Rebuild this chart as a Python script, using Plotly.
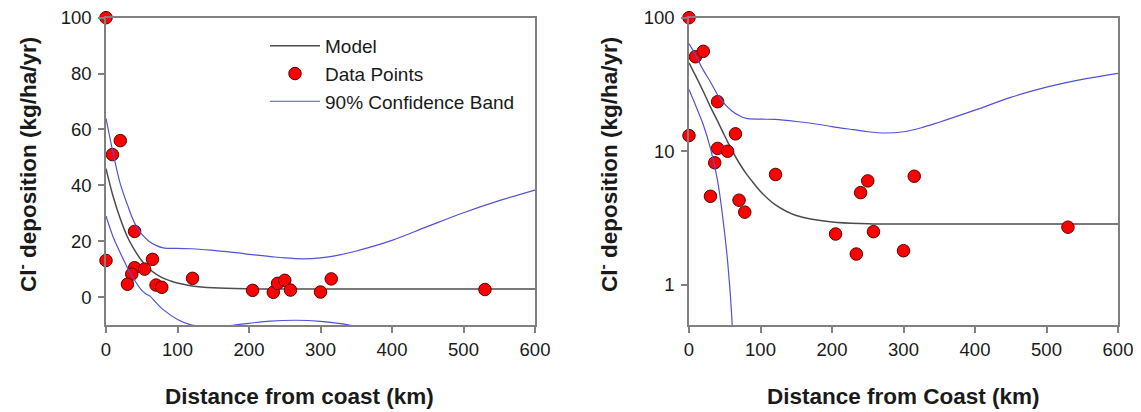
import plotly.graph_objects as go

# ---- data ----
data_x = [0, 9, 20, 40, 0, 65, 40, 54, 36, 30, 70, 78, 121, 205, 234, 240, 250, 258, 300, 315, 530]
data_y = [100, 51, 56, 23.5, 13.1, 13.5, 10.5, 10.0, 8.2, 4.6, 4.3, 3.5, 6.7, 2.4, 1.7, 4.9, 6.0, 2.5, 1.8, 6.5, 2.7]

model_x = [0, 10, 20, 30, 40, 50, 60, 70, 80, 90, 100, 120, 150, 200, 250, 300, 400, 500, 600]
model_y = [46, 36, 28, 21.5, 16.8, 13, 10.2, 8.2, 6.8, 5.8, 5.0, 4.0, 3.3, 2.95, 2.87, 2.85, 2.85, 2.85, 2.85]

upper_x = [0, 10, 20, 30, 40, 50, 60, 70, 80, 100, 120, 150, 185, 200, 230, 250, 275, 300, 325, 350, 400, 450, 500, 550, 600]
upper_y = [64, 51.5, 40.5, 33, 26.5, 22.5, 20, 18.5, 17.6, 17.4, 17.3, 16.7, 15.8, 15.3, 14.5, 14.0, 13.7, 14.0, 15, 16.5, 20.3, 25.3, 30.2, 34.5, 38.3]

lower_x = [0, 10, 20, 30, 40, 50, 55, 60, 62, 70, 80, 100, 120, 140, 160, 180, 200, 230, 265, 300, 340, 400, 450, 500, 550, 600]
lower_y = [29, 21.5, 15.8, 10.5, 6.0, 2.4, 1.3, 0.55, 0.25, -2, -4.5, -8, -10, -10.4, -10.6, -10, -9.4, -8.6, -8.3, -8.7, -10, -14, -19.2, -24.2, -28.5, -32.5]

x_ticks = [0, 100, 200, 300, 400, 500, 600]
y_ticks_lin = [0, 20, 40, 60, 80, 100]
y_ticks_log = [1, 10, 100]

# ---- styling ----
OFF = 8                      # page body margin
W, H = 1141 - OFF, 412 - OFF  # figure size that fits the window


def px(xs):
    """screen x pixel -> paper fraction"""
    return (xs - OFF) / W


def py(ys):
    """screen y pixel (from top) -> paper fraction"""
    return (H - (ys - OFF)) / H


MODEL_C = "#4d4d4d"
BAND_C = "#5252d6"
PT_FILL = "#ff0000"
PT_LINE = "#5a0000"
AXIS_C = "#808080"
FONT = "Liberation Sans, Arial, sans-serif"
TXT_C = "#1a1a1a"

fig = go.Figure()

for i, (xa, ya) in enumerate([("x", "y"), ("x2", "y2")]):
    first = i == 0
    fig.add_trace(go.Scatter(x=model_x, y=model_y, mode="lines", name="Model",
                             line=dict(color=MODEL_C, width=1.5, shape="spline"),
                             xaxis=xa, yaxis=ya, showlegend=first))
    fig.add_trace(go.Scatter(x=data_x, y=data_y, mode="markers", name="Data Points",
                             marker=dict(color=PT_FILL, size=12.5, line=dict(color=PT_LINE, width=1)),
                             cliponaxis=False,
                             xaxis=xa, yaxis=ya, showlegend=first))
    fig.add_trace(go.Scatter(x=upper_x, y=upper_y, mode="lines", name="90% Confidence Band",
                             line=dict(color=BAND_C, width=1.2, shape="spline"),
                             xaxis=xa, yaxis=ya, showlegend=first))
    fig.add_trace(go.Scatter(x=lower_x, y=lower_y, mode="lines", name="90% Confidence Band",
                             line=dict(color=BAND_C, width=1.2, shape="spline"),
                             xaxis=xa, yaxis=ya, showlegend=False))

x_dom1 = [px(106), px(535)]
x_dom2 = [px(689), px(1118)]
y_dom = [py(325), py(17.7)]

common_axis = dict(showline=True, linecolor=AXIS_C, linewidth=1.6, mirror=True,
                   ticks="outside", ticklen=6, tickwidth=1.6, tickcolor=AXIS_C,
                   showgrid=False, zeroline=False, automargin=False,
                   ticklabeloverflow="allow",
                   tickfont=dict(family=FONT, size=18.5, color=TXT_C))

fig.update_layout(
    width=W, height=H,
    margin=dict(l=0, r=0, t=0, b=0, autoexpand=False),
    paper_bgcolor="white", plot_bgcolor="white",
    font=dict(family=FONT, color=TXT_C),
    xaxis=dict(domain=x_dom1, anchor="y", range=[0, 600], tickvals=x_ticks,
               ticklabelstandoff=1, **common_axis),
    yaxis=dict(domain=y_dom, anchor="x", range=[-10, 100], tickvals=y_ticks_lin,
               ticklabelstandoff=3, **common_axis),
    xaxis2=dict(domain=x_dom2, anchor="y2", range=[0, 600], tickvals=x_ticks,
                ticklabelstandoff=1, **common_axis),
    yaxis2=dict(domain=y_dom, anchor="x2", type="log", range=[-0.30103, 2],
                tickvals=y_ticks_log, ticktext=["1", "10", "100"],
                ticklabelstandoff=3, **common_axis),
    legend=dict(x=px(265), y=py(27), xanchor="left", yanchor="top",
                bgcolor="rgba(0,0,0,0)", font=dict(family=FONT, size=19, color=TXT_C),
                tracegroupgap=0, itemwidth=50),
    showlegend=True,
)

title_font = dict(family=FONT, size=22.5, color=TXT_C)
ann = [
    dict(text="<b>Distance from coast (km)</b>", x=px(299), y=py(396)),
    dict(text="<b>Distance from Coast (km)</b>", x=px(903), y=py(396)),
]
for a in ann:
    fig.add_annotation(xref="paper", yref="paper", showarrow=False, font=title_font,
                       xanchor="center", yanchor="middle", **a)
for xp in [27, 608]:
    fig.add_annotation(xref="paper", yref="paper", showarrow=False, font=title_font,
                       text="<b>Cl<sup>-</sup> deposition (kg/ha/yr)</b>",
                       x=px(xp), y=py(165), textangle=-90,
                       xanchor="center", yanchor="middle")

fig.write_html("out.html")
